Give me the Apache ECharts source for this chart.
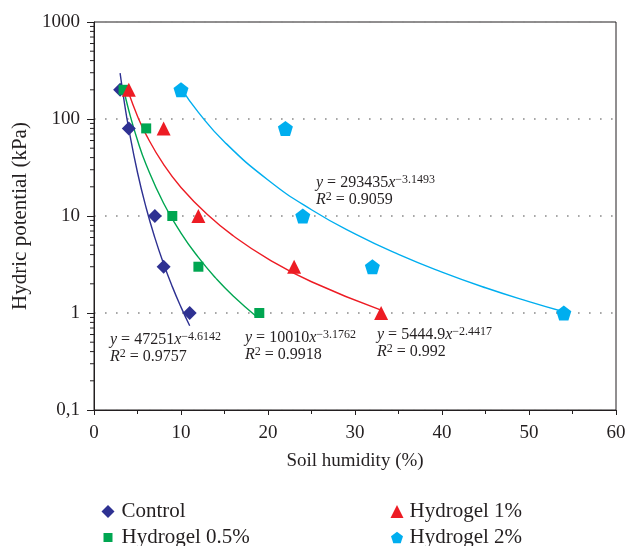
<!DOCTYPE html>
<html>
<head>
<meta charset="utf-8">
<script src="https://cdn.jsdelivr.net/npm/echarts@6/dist/echarts.min.js"></script>
<style>
  html, body { margin: 0; padding: 0; background: #fff; }
  #chart { width: 628px; height: 546px; }
</style>
</head>
<body>
<div id="chart"></div>
<script>
// measured points
const seriesNames = ['Control', 'Hydrogel 0.5%', 'Hydrogel 1%', 'Hydrogel 2%']
const controlX = [3, 4, 7, 8, 11]
const controlY = [200, 80, 10, 3, 1]
const gel05X = [3.4, 6, 9, 12, 19]
const gel05Y = [200, 80, 10, 3, 1]
const gel1X = [4, 8, 12, 23, 33]
const gel1Y = [200, 80, 10, 3, 1]
const gel2X = [10, 22, 24, 32, 54]
const gel2Y = [200, 80, 10, 3, 1]

// power trend lines
const controlTrendX = [3, 3.5, 4, 5, 6, 7, 8, 9, 10, 11]
const controlTrendY = [297, 146, 79, 28.1, 12.1, 5.95, 3.22, 1.87, 1.15, 0.74]
const gel05TrendX = [3.4, 4, 5, 6, 8, 10, 12, 14, 16, 18.8]
const gel05TrendY = [205, 122.5, 60.3, 33.8, 13.55, 6.67, 3.74, 2.29, 1.5, 0.9]
const gel1TrendX = [4, 5, 6, 8, 10, 13, 16, 20, 25, 33]
const gel1TrendY = [184, 107, 68.5, 34, 19.7, 10.4, 6.25, 3.62, 2.1, 1.07]
const gel2TrendX = [10, 12, 15, 20, 25, 30, 35, 40, 45, 50, 54]
const gel2TrendY = [208, 117, 58, 23.5, 11.6, 6.54, 4.02, 2.64, 1.82, 1.31, 1.03]

// equations shown on the chart
const eqCoef = ['47251', '10010', '5444.9', '293435']
const eqExp = ['−4.6142', '−3.1762', '−2.4417', '−3.1493']
const eqR2 = ['0.9757', '0.9918', '0.992', '0.9059']

// axis ticks
const xTickValues = [0, 10, 20, 30, 40, 50, 60]
const yMinorTicks = [0.2, 0.3, 0.4, 0.5, 0.6, 0.7, 0.8, 0.9,
  2, 3, 4, 5, 6, 7, 8, 9, 20, 30, 40, 50, 60, 70, 80, 90,
  200, 300, 400, 500, 600, 700, 800, 900]

const colors = ['#2e3192', '#00a651', '#ed1c24', '#00aeef']
const pentagon = 'path://M50,0 L97.6,34.5 L79.4,90.5 L20.6,90.5 L2.4,34.5 Z'
const symbols = ['diamond', 'rect', 'triangle', pentagon]
const symbolSizes = [14, 10, 14, 15]
const axisColor = '#231f20'
const serif = '"Liberation Serif", "DejaVu Serif", serif'

const pointsX = [controlX, gel05X, gel1X, gel2X]
const pointsY = [controlY, gel05Y, gel1Y, gel2Y]
const trendX = [controlTrendX, gel05TrendX, gel1TrendX, gel2TrendX]
const trendY = [controlTrendY, gel05TrendY, gel1TrendY, gel2TrendY]

const zip = (xs, ys) => xs.map((x, i) => [x, ys[i]])

const series = []
trendX.forEach((xs, i) => {
  series.push({
    name: seriesNames[i] + ' trend',
    type: 'line',
    data: zip(xs, trendY[i]),
    smooth: true,
    showSymbol: false,
    silent: true,
    lineStyle: { color: colors[i], width: 1.4 },
    z: 2
  })
})
pointsX.forEach((xs, i) => {
  series.push({
    name: seriesNames[i],
    type: 'scatter',
    data: zip(xs, pointsY[i]),
    symbol: symbols[i],
    symbolSize: symbolSizes[i],
    itemStyle: { color: colors[i], opacity: 1 },
    z: 3
  })
})

// minor ticks of the log axis, drawn through the axis scale
series.push({
  type: 'custom',
  silent: true,
  clip: false,
  data: yMinorTicks.map(v => [0, v]),
  renderItem: (params, api) => {
    const p = api.coord([0, api.value(1)])
    return {
      type: 'line',
      shape: { x1: p[0] - 4, y1: p[1], x2: p[0], y2: p[1] },
      style: { stroke: axisColor, lineWidth: 1 }
    }
  },
  z: 5
})

const eqText = (i) => '{i|y} = ' + eqCoef[i] + '{i|x}{sup|' + eqExp[i] + '}\n{i|R}{sup|2} = ' + eqR2[i]
const eqPos = [[110, 331], [245, 329], [377, 326], [316, 174]]

// one legend per entry, laid out in two columns
const legendPos = [[96.5, 496], [98.5, 522], [385.5, 496], [386, 522]]
const legendIcon = [13, 9, 13, 12]
const legendPad = [2, 4, 1, 1.5]
const legend = seriesNames.map((n, i) => ({
  data: [n],
  left: legendPos[i][0],
  top: legendPos[i][1],
  itemWidth: legendIcon[i],
  itemHeight: legendIcon[i],
  selectedMode: false,
  textStyle: {
    fontFamily: serif, fontSize: 21, color: '#231f20',
    padding: [0, 0, 0, legendPad[i]]
  }
}))

const option = {
  animation: false,
  backgroundColor: '#fff',
  grid: {
    left: 94, right: 12, top: 22, bottom: 136,
    outerBoundsMode: 'none',
    containLabel: false,
    show: true, borderColor: axisColor, borderWidth: 1
  },
  legend: legend,
  xAxis: {
    type: 'value',
    min: 0, max: 60, interval: 10,
    name: 'Soil humidity (%)',
    nameLocation: 'middle',
    nameGap: 42,
    nameTextStyle: { fontFamily: serif, fontSize: 19, color: '#231f20' },
    axisLine: { lineStyle: { color: axisColor, width: 1 } },
    axisTick: { show: true, length: 5, inside: false, lineStyle: { color: axisColor } },
    minorTick: { show: true, splitNumber: 2, length: 4, lineStyle: { color: axisColor } },
    axisLabel: {
      fontFamily: serif, fontSize: 19, color: '#231f20', margin: 14,
      formatter: v => xTickValues.includes(v) ? String(v) : ''
    },
    splitLine: { show: false }
  },
  yAxis: {
    type: 'log',
    logBase: 10,
    min: 0.1, max: 1000,
    name: 'Hydric potential (kPa)',
    nameLocation: 'middle',
    nameGap: 63,
    nameRotate: 90,
    nameTextStyle: { fontFamily: serif, fontSize: 21, color: '#231f20' },
    axisLine: { show: true, lineStyle: { color: axisColor, width: 1 } },
    axisTick: { show: true, length: 7, lineStyle: { color: axisColor } },
    axisLabel: {
      fontFamily: serif, fontSize: 19, color: '#231f20', margin: 14,
      formatter: v => String(v).replace('.', ',')
    },
    splitLine: {
      show: true,
      lineStyle: { color: '#8a8a8a', width: 1.6, type: [1.6, 9.4] }
    }
  },
  graphic: eqPos.map((p, i) => ({
    type: 'text',
    left: p[0],
    top: p[1],
    silent: true,
    style: {
      text: eqText(i),
      fontFamily: serif,
      fontSize: 16,
      lineHeight: 17,
      fill: '#231f20',
      rich: {
        i: { fontStyle: 'italic', fontFamily: serif, fontSize: 16 },
        sup: { fontSize: 12, fontFamily: serif, verticalAlign: 'top', padding: [0, 0, 8, 0] }
      }
    }
  })),
  series: series
}

const chart = echarts.init(document.getElementById('chart'))
chart.setOption(option)
</script>
</body>
</html>
